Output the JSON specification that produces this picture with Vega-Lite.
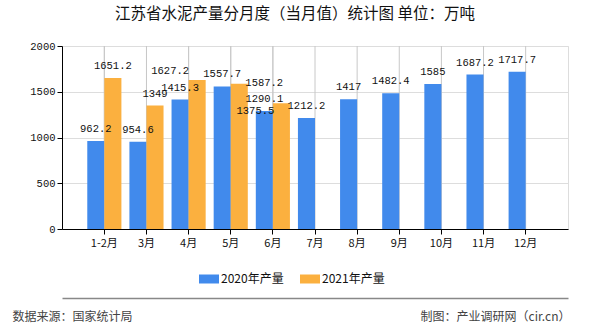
{
  "$schema": "https://vega.github.io/schema/vega-lite/v6.json",
  "width": 506,
  "height": 183,
  "autosize": "none",
  "padding": {"left": 62, "top": 46, "right": 22, "bottom": 101},
  "background": "white",
  "title": {
    "text": "江苏省水泥产量分月度（当月值）统计图 单位：万吨",
    "font": "Noto Sans CJK SC",
    "fontSize": 15.5,
    "fontWeight": "normal",
    "color": "#111111",
    "anchor": "middle",
    "offset": 19,
    "dx": -20
  },
  "config": {
    "view": {"stroke": "#dddddd"},
    "axis": {"labelColor": "#111111", "tickColor": "#000000", "domainColor": "#000000"}
  },
  "data": {
    "values": [
      {"month": "1-2月", "series": "2020年产量", "value": 962.2},
      {"month": "3月", "series": "2020年产量", "value": 954.6},
      {"month": "4月", "series": "2020年产量", "value": 1415.3},
      {"month": "5月", "series": "2020年产量", "value": 1557.7},
      {"month": "6月", "series": "2020年产量", "value": 1290.1},
      {"month": "7月", "series": "2020年产量", "value": 1212.2},
      {"month": "8月", "series": "2020年产量", "value": 1417},
      {"month": "9月", "series": "2020年产量", "value": 1482.4},
      {"month": "10月", "series": "2020年产量", "value": 1585},
      {"month": "11月", "series": "2020年产量", "value": 1687.2},
      {"month": "12月", "series": "2020年产量", "value": 1717.7},
      {"month": "1-2月", "series": "2021年产量", "value": 1651.2},
      {"month": "3月", "series": "2021年产量", "value": 1349},
      {"month": "4月", "series": "2021年产量", "value": 1627.2},
      {"month": "5月", "series": "2021年产量", "value": 1587.2},
      {"month": "6月", "series": "2021年产量", "value": 1375.5}
    ]
  },
  "encoding": {
    "x": {
      "field": "month",
      "type": "nominal",
      "sort": ["1-2月", "3月", "4月", "5月", "6月", "7月", "8月", "9月", "10月", "11月", "12月"],
      "scale": {"paddingInner": 0.19, "paddingOuter": 0.6},
      "axis": null
    }
  },
  "layer": [
    {
      "mark": {"type": "rule", "color": "#c8c8c8", "strokeWidth": 1},
      "encoding": {
        "x": {
          "field": "month",
          "type": "nominal",
          "sort": ["1-2月", "3月", "4月", "5月", "6月", "7月", "8月", "9月", "10月", "11月", "12月"],
          "bandPosition": 0.5,
          "axis": {
            "orient": "bottom",
            "offset": 69,
            "title": null,
            "labels": false,
            "ticks": false,
            "grid": false,
            "domainColor": "#888888",
            "domainWidth": 1.5
          }
        }
      }
    },
    {
      "mark": {"type": "bar"},
      "encoding": {
        "x": {
          "field": "month",
          "type": "nominal",
          "sort": ["1-2月", "3月", "4月", "5月", "6月", "7月", "8月", "9月", "10月", "11月", "12月"],
          "axis": {
            "orient": "bottom",
            "title": "制图：产业调研网（cir.cn）",
            "titleFont": "Noto Sans CJK SC",
            "titleFontSize": 12,
            "titleFontWeight": "normal",
            "titleColor": "#444444",
            "titleAngle": 0,
            "titleAlign": "right",
            "titleBaseline": "middle",
            "titleX": 508,
            "titleY": 87,
            "labelAngle": 0,
            "labelFont": "Noto Sans CJK SC",
            "labelFontSize": 11,
            "labelPadding": 3,
            "tickSize": 5,
            "grid": false
          }
        },
        "xOffset": {"field": "series", "type": "nominal"},
        "y": {
          "field": "value",
          "type": "quantitative",
          "scale": {"domain": [0, 2000]},
          "axis": {
            "values": [0, 500, 1000, 1500, 2000],
            "format": "d",
            "title": "数据来源：国家统计局",
            "titleFont": "Noto Sans CJK SC",
            "titleFontSize": 12,
            "titleFontWeight": "normal",
            "titleColor": "#444444",
            "titleAngle": 0,
            "titleAlign": "left",
            "titleBaseline": "middle",
            "titleX": -50,
            "titleY": 270,
            "labelFont": "Liberation Mono",
            "labelFontSize": 10.5,
            "tickSize": 5,
            "gridColor": "#dddddd"
          }
        },
        "color": {
          "field": "series",
          "type": "nominal",
          "scale": {"domain": ["2020年产量", "2021年产量"], "range": ["#418aec", "#fbb03f"]},
          "legend": {
            "title": null,
            "orient": "none",
            "direction": "horizontal",
            "legendX": 137,
            "legendY": 223,
            "symbolType": "M-1,-0.45H1V0.45H-1Z",
            "symbolSize": 400,
            "symbolStrokeWidth": 0,
            "labelFont": "Noto Sans CJK SC",
            "labelFontSize": 12,
            "labelColor": "#111111",
            "labelOffset": 2,
            "columnPadding": 16
          }
        }
      }
    },
    {
      "transform": [{"filter": "!((datum.month === '4月' || datum.month === '5月' || datum.month === '6月') && datum.series === '2021年产量')"}],
      "mark": {"type": "text", "dy": -12, "font": "Liberation Mono", "fontSize": 10.5, "color": "#111111"},
      "encoding": {
        "xOffset": {"field": "series", "type": "nominal"},
        "y": {"field": "value", "type": "quantitative"},
        "text": {"field": "value", "type": "quantitative"}
      }
    },
    {
      "transform": [{"filter": "datum.month === '4月' && datum.series === '2021年产量'"}],
      "mark": {"type": "text", "dx": -27, "dy": -9, "font": "Liberation Mono", "fontSize": 10.5, "color": "#111111"},
      "encoding": {
        "xOffset": {"field": "series", "type": "nominal"},
        "y": {"field": "value", "type": "quantitative"},
        "text": {"field": "value", "type": "quantitative"}
      }
    },
    {
      "transform": [{"filter": "datum.month === '5月' && datum.series === '2021年产量'"}],
      "mark": {"type": "text", "dx": 25, "dy": -1, "font": "Liberation Mono", "fontSize": 10.5, "color": "#111111"},
      "encoding": {
        "xOffset": {"field": "series", "type": "nominal"},
        "y": {"field": "value", "type": "quantitative"},
        "text": {"field": "value", "type": "quantitative"}
      }
    },
    {
      "transform": [{"filter": "datum.month === '6月' && datum.series === '2021年产量'"}],
      "mark": {"type": "text", "dx": -26, "dy": 8, "font": "Liberation Mono", "fontSize": 10.5, "color": "#111111"},
      "encoding": {
        "xOffset": {"field": "series", "type": "nominal"},
        "y": {"field": "value", "type": "quantitative"},
        "text": {"field": "value", "type": "quantitative"}
      }
    }
  ],
  "resolve": {"axis": {"x": "independent"}}
}
